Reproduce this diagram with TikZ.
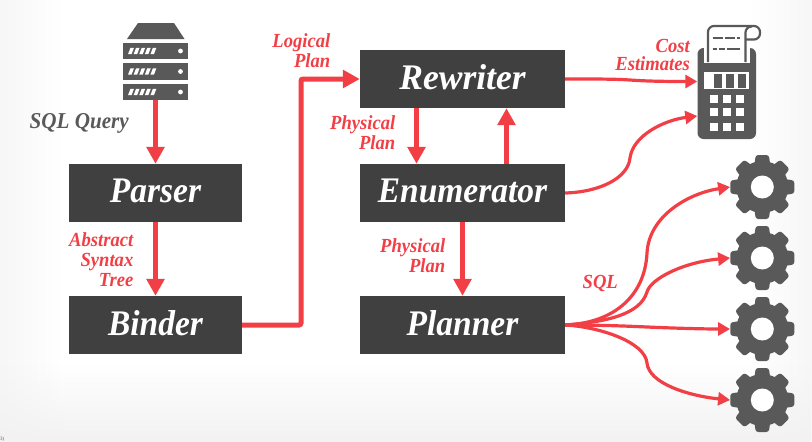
\documentclass[tikz,border=0pt]{standalone}
\usepackage{fontspec}
\setmainfont{Liberation Serif}
\newfontfamily\slidefont[FakeStretch=0.93]{Liberation Serif}
\usetikzlibrary{arrows.meta,fadings}
\definecolor{boxdark}{HTML}{404040}
\definecolor{icondark}{HTML}{595959}
\definecolor{flow}{HTML}{F23F46}
\newcommand\lifted[1]{\raisebox{4.5pt}{#1}}
\tikzset{
  stage/.style={fill=boxdark,text=white,inner sep=0pt,minimum height=58pt,font=\fontsize{36}{36}\slidefont\bfseries\itshape},
  stagesmall/.style={stage,minimum width=173pt},
  stagewide/.style={stage,minimum width=205pt},
  bigflow/.style={draw=flow,line width=5pt,-{Triangle[length=17pt,width=17.5pt]}},
  thinflow/.style={draw=flow,line width=3.2pt,-{Triangle[length=12pt,width=13pt]}},
  flowlabel/.style={text=flow,align=right,anchor=east,inner sep=0pt,font=\fontsize{20}{20}\slidefont\bfseries\itshape},
  iconbox/.style={inner sep=0pt,minimum width=#1},
  gearicon/.pic={
    \fill[icondark] (0,0) circle[radius=26];
    \foreach \a in {0,45,...,315}{
      \fill[icondark,rotate=\a,rounded corners=2.5pt] (-8,-22) -- (-6.5,-32) -- (6.5,-32) -- (8,-22) -- cycle;
    }
    \fill[white] (0,0) circle[radius=11.5];
  },
  rackunit/.pic={
    \fill[icondark] (-32.5,-8.2) rectangle (32.5,8.2);
    \foreach \i in {0,1,2,3,4}{
      \fill[white] (-27.5+\i*5.6,3.2) -- (-24+\i*5.6,3.2) -- (-21.5+\i*5.6,-3.2) -- (-25+\i*5.6,-3.2) -- cycle;
    }
    \fill[white] (25,0) circle[radius=2.4];
  }
}
\begin{document}
\begin{tikzpicture}[x=1pt,y=-1pt]
\useasboundingbox (0,0) rectangle (812,442);
\fill[white] (0,0) rectangle (812,442);
\fill[black!3,path fading=east] (0,0) rectangle (60,442);
\fill[black!3,path fading=west] (752,0) rectangle (812,442);
\fill[black!5,path fading=north] (0,365) rectangle (812,442);

% stages
\node[stagesmall] (parser) at (155.5,193) {\lifted{Parser}};
\node[stagesmall] (binder) at (155.5,325) {\lifted{Binder}};
\node[stagewide] (rewriter) at (462.5,79) {\lifted{\scalebox{1.06}[1]{Rewriter}}};
\node[stagewide] (enumerator) at (462.5,193) {\lifted{Enumerator}};
\node[stagewide] (planner) at (462.5,325) {\lifted{Planner}};

% server icon
\node[iconbox=65pt,minimum height=77pt] (server) at (155.5,61.5) {};
\fill[icondark] (138,23) -- (174,23) -- (184.5,39) -- (127,39) -- cycle;
\pic at (155.5,51) {rackunit};
\pic at (155.5,71.5) {rackunit};
\pic at (155.5,92) {rackunit};

% calculator icon
\node[iconbox=59pt,minimum height=91pt] (calc) at (727,93.5) {};
\fill[icondark,rounded corners=6pt] (697.5,48) rectangle (756,139);
\fill[white] (703.5,44) rectangle (750,63);
\draw[icondark,line width=2.2pt,rounded corners=6pt] (708,62) -- (708,26) -- (760,26) -- (760,39.5) -- (745.5,39.5);
\draw[icondark,line width=2.2pt,rounded corners=6pt] (745.5,62) -- (745.5,26.5) -- (752,26.5);
\draw[icondark,line width=2.2pt,dash pattern=on 10pt off 2pt on 10pt off 2pt on 6pt off 20pt] (712.5,38.3) -- (740,38.3);
\draw[icondark,line width=2.2pt,dash pattern=on 4pt off 2pt on 6pt off 2pt on 14pt off 20pt] (712.5,49.3) -- (740,49.3);
\fill[white] (704,72) rectangle (748.5,89);
\foreach \x in {718,730,742}{\fill[icondark] (\x-4,74) rectangle (\x+4,88);}
\foreach \y in {98.7,112.3,126.7}{\foreach \x in {713.7,726.7,740}{\fill[white] (\x-4,\y-4) rectangle (\x+4,\y+4);}}

% gears
\foreach \n/\y in {1/187,2/258,3/329,4/400}{
  \node[circle,inner sep=0pt,minimum size=64pt] (gear\n) at (762.3,\y) {};
  \pic at (762.3,\y) {gearicon};
}

% connectors
\draw[bigflow] (server.south) -- (parser.north);
\draw[bigflow] (parser.south) -- (binder.north);
\draw[draw=flow,line width=5pt,rounded corners=2pt,-{Triangle[length=17pt,width=17.5pt]}] (binder.east) -- (301,325) -- (301,79) -- (rewriter.west);
\draw[bigflow] ([xshift=-46pt]rewriter.south) -- ([xshift=-46pt]enumerator.north);
\draw[bigflow] ([xshift=44pt]enumerator.north) -- ([xshift=44pt]rewriter.south);
\draw[bigflow] (enumerator.south) -- (planner.north);

\draw[thinflow] (rewriter.east) .. controls (600,79) and (615,79) .. (630,80) .. controls (650,81.5) and (675,81.5) .. (calc.west |- 0,81.5);
\draw[thinflow] (enumerator.east) .. controls (600,192) and (628,178) .. (630,158) .. controls (633,135) and (665,120) .. (calc.west |- 0,116);
\draw[thinflow] (planner.east) .. controls (615,323) and (645,295) .. (647,253) .. controls (649,215) and (690,193) .. (gear1.west);
\draw[thinflow] (planner.east) .. controls (605,322) and (640,315) .. (647,292) .. controls (651,278) and (685,262) .. (gear2.west);
\draw[thinflow] (planner.east) .. controls (600,325) and (625,326) .. (647,327) .. controls (670,328) and (700,329) .. (gear3.west);
\draw[thinflow] (planner.east) .. controls (600,327) and (645,342) .. (647,363) .. controls (649,384) and (690,396) .. (gear4.west);

% labels
\node[flowlabel,text=icondark,font=\fontsize{22.7}{22.7}\slidefont\bfseries\itshape] (lsql) at (129,123) {SQL Query};
\node[flowlabel] (last) at (133.5,259.5) {Abstract\\Syntax\\Tree};
\node[flowlabel] (llog) at (330.5,51) {Logical\\Plan};
\node[flowlabel] (lph1) at (395.5,133) {Physical\\Plan};
\node[flowlabel] (lph2) at (445.5,256) {Physical\\Plan};
\node[flowlabel] (lcost) at (690,54.5) {Cost\\[-2pt]Estimates};
\node[flowlabel] (lq) at (618,283.5) {SQL};
\node[anchor=west,inner sep=0pt,text=icondark,font=\fontsize{5}{5}\selectfont] (pg) at (0,439) {3)};
\end{tikzpicture}
\end{document}
